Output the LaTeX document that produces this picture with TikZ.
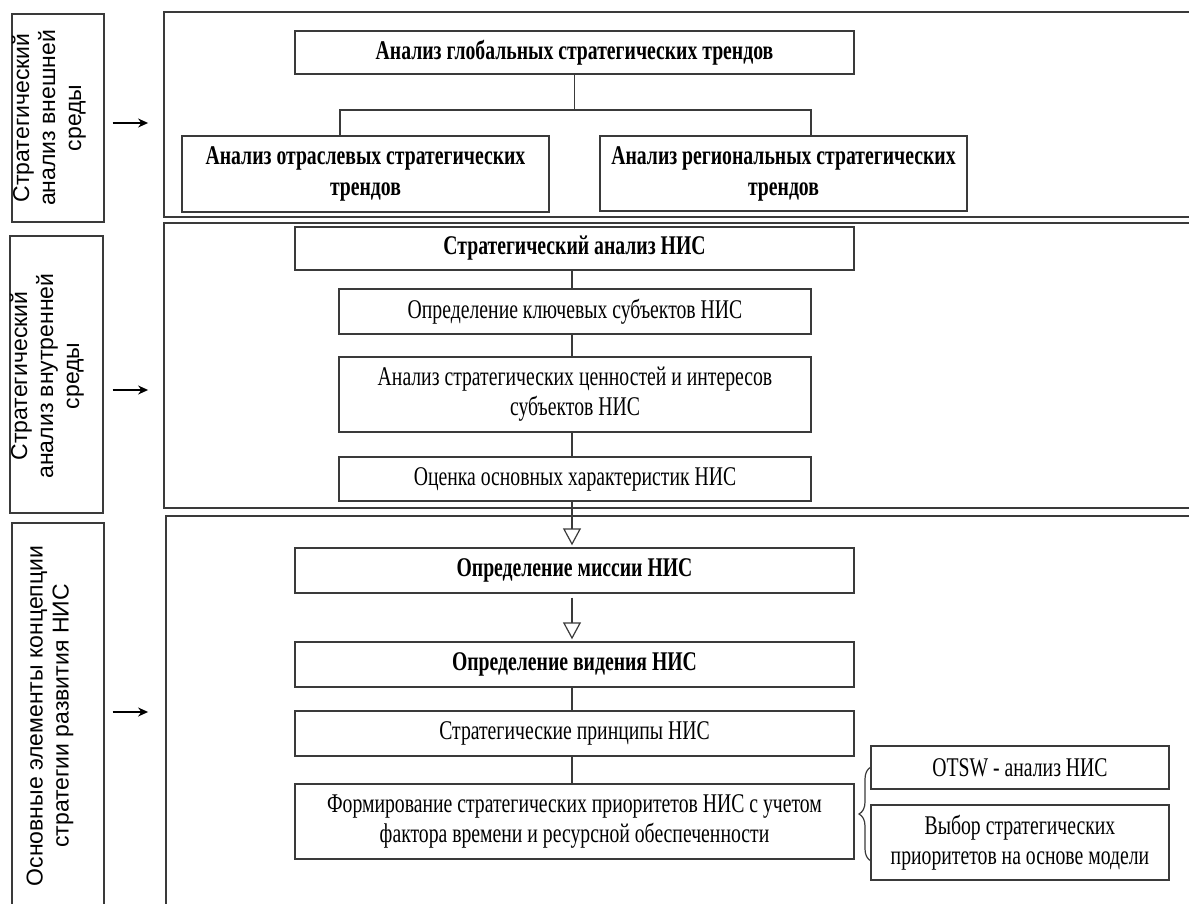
\documentclass[tikz,border=0pt]{standalone}
\usepackage{fontspec}
\setmainfont{Liberation Serif}[FakeStretch=0.73]
\newfontfamily\sidefont{Liberation Sans}
\usetikzlibrary{arrows.meta,decorations.pathreplacing,calc}
\definecolor{lc}{HTML}{3A3A3A}
\begin{document}
\begin{tikzpicture}[x=1pt,y=-1pt,
  box/.style={draw=lc, line width=1.4pt, fill=white, align=center, inner sep=0pt, font=\fontsize{27}{30}\selectfont},
  bbox/.style={box, font=\fontsize{27}{31}\selectfont\bfseries},
  frame/.style={draw=lc, line width=1.8pt, inner sep=0pt},
  sidetxt/.style={rotate=90, align=center, inner sep=0pt, font=\sidefont\fontsize{23}{26}\selectfont},
  conn/.style={draw=lc, line width=1.2pt},
  openarr/.style={conn, -{Triangle[open, length=17pt, width=18pt, line width=1.2pt]}},
  larr/.style={draw=black, line width=1.6pt, -{Stealth[length=10pt, width=9pt]}}
]
\useasboundingbox (0,0) rectangle (1189,904);
\clip (0,0) rectangle (1189,904);

% frames
\node[frame, minimum width=1036pt, minimum height=205pt] (f1) at (682,114.5) {};
\node[frame, minimum width=1036pt, minimum height=285pt] (f2) at (682,365.5) {};
\node[frame, minimum width=1034pt, minimum height=404pt] (f3) at (683,718) {};

% left boxes
\node[frame, line width=1.4pt, minimum width=92pt, minimum height=208pt] (lb1) at (58,118) {};
\node[frame, line width=1.4pt, minimum width=93pt, minimum height=277pt] (lb2) at (56.5,374.5) {};
\node[frame, line width=1.4pt, minimum width=92pt, minimum height=397pt] (lb3) at (58,721.5) {};
\node[sidetxt] (lt1) at (49,118) {Стратегический\\анализ внешней\\среды};
\node[sidetxt] (lt2) at (47,376) {Стратегический\\анализ внутренней\\среды};
\node[sidetxt] (lt3) at (50,716) {Основные элементы концепции\\стратегии развития НИС};

% left arrows
\coordinate (y1) at (0,123);
\coordinate (y2) at (0,390);
\coordinate (y3) at (0,712);
\draw[larr, shorten <=8pt, shorten >=15pt] (lb1.east |- y1) -- (f1.west |- y1);
\draw[larr, shorten <=9pt, shorten >=15pt] (lb2.east |- y2) -- (f2.west |- y2);
\draw[larr, shorten <=8pt, shorten >=17pt] (lb3.east |- y3) -- (f3.west |- y3);

% row 1
\node[bbox, minimum width=559pt, minimum height=43pt] (t1) at (574.5,52.5) {Анализ глобальных стратегических трендов};
\node[bbox, minimum width=367pt, minimum height=76pt] (t2) at (365.5,174) {Анализ отраслевых стратегических\\трендов};
\node[bbox, minimum width=367pt, minimum height=75pt] (t3) at (783.5,173.5) {Анализ региональных стратегических\\трендов};
\coordinate (j1) at (574.5,110);
\coordinate (jl) at (340,110);
\coordinate (jr) at (811,110);
\draw[conn] (t1.south) -- (j1);
\draw[conn] (t2.north -| jl) -- (jl) -- (jr) -- (t3.north -| jr);

% row 2
\node[bbox, minimum width=559pt, minimum height=43pt] (s1) at (574.5,248.5) {Стратегический анализ НИС};
\node[box, minimum width=472pt, minimum height=45pt] (s2) at (575,311.5) {Определение ключевых субъектов НИС};
\node[box, minimum width=472pt, minimum height=75pt] (s3) at (575,394.5) {Анализ стратегических ценностей и интересов\\субъектов НИС};
\node[box, minimum width=472pt, minimum height=44pt] (s4) at (575,479) {Оценка основных характеристик НИС};

% row 3
\node[bbox, minimum width=559pt, minimum height=45pt] (m1) at (574.5,570.5) {Определение миссии НИС};
\node[bbox, minimum width=559pt, minimum height=45pt] (m2) at (574.5,664.5) {Определение видения НИС};
\node[box, minimum width=559pt, minimum height=45pt] (m3) at (574.5,733.5) {Стратегические принципы НИС};
\node[box, minimum width=559pt, minimum height=75pt] (m4) at (574.5,821.5) {Формирование стратегических приоритетов НИС с учетом\\фактора времени и ресурсной обеспеченности};
\node[box, minimum width=298pt, minimum height=43pt] (r1) at (1020,767.5) {OTSW - анализ НИС};
\node[box, minimum width=298pt, minimum height=75pt] (r2) at (1020,842.5) {Выбор стратегических\\приоритетов на основе модели};

% vertical connectors
\coordinate (cx) at (572,0);
\draw[conn] (s1.south -| cx) -- (s2.north -| cx);
\draw[conn] (s2.south -| cx) -- (s3.north -| cx);
\draw[conn] (s3.south -| cx) -- (s4.north -| cx);
\draw[openarr, shorten >=2pt] (s4.south -| cx) -- (m1.north -| cx);
\draw[openarr, shorten <=4pt, shorten >=2pt] (m1.south -| cx) -- (m2.north -| cx);
\draw[conn] (m2.south -| cx) -- (m3.north -| cx);
\draw[conn] (m3.south -| cx) -- (m4.north -| cx);

% brace
\coordinate (bt) at (871,767);
\coordinate (bb) at (871,861);
\draw[conn, decorate, decoration={brace, amplitude=12pt}] (bb) -- (bt);
\end{tikzpicture}
\end{document}
